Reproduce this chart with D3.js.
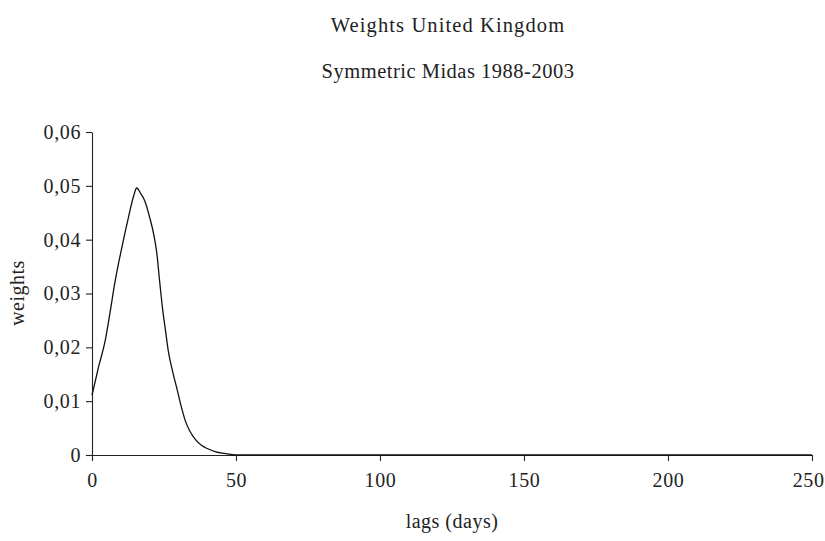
<!DOCTYPE html>
<html>
<head>
<meta charset="utf-8">
<script src="https://cdn.jsdelivr.net/npm/d3@7"></script>
<style>
  body { margin: 0; background: #fff; }
  svg text { font-family: "Liberation Serif", "Times New Roman", serif; fill: #222; }
</style>
</head>
<body>
<svg id="chart"></svg>
<script>
// values
const lags = [0, 2.3, 4.6, 6.3, 8, 10.3, 12.6, 14.5, 15.5, 17, 18.4, 20, 21.5, 22.5, 23.5, 24.5, 25.5, 26.5, 28, 29.5, 31, 32.5, 34, 36, 38, 40, 43, 46, 50, 60, 100, 150, 200, 250]
const weights = [0.0111, 0.0164, 0.0213, 0.0266, 0.0322, 0.0384, 0.0440, 0.0482, 0.0496, 0.0485, 0.0471, 0.0442, 0.0408, 0.0375, 0.0322, 0.0272, 0.0232, 0.0193, 0.0155, 0.0123, 0.0090, 0.0062, 0.0044, 0.0028, 0.0018, 0.0012, 0.0006, 0.0003, 0, 0, 0, 0, 0, 0]
const xTicks = [0, 50, 100, 150, 200, 250]
const yTicks = [0, 0.01, 0.02, 0.03, 0.04, 0.05, 0.06]

const width = 825, height = 541
const margin = {top: 132, right: 13, bottom: 86, left: 92}

const svg = d3.select('#chart')
  .attr('width', width)
  .attr('height', height)

const x = d3.scaleLinear()
  .domain([0, 250])
  .range([margin.left, width - margin.right])
const y = d3.scaleLinear()
  .domain([0, 0.06])
  .range([height - margin.bottom, margin.top])

const comma = d3.formatLocale({decimal: ',', thousands: '.', grouping: [3], currency: ['', '']})
const yFmt = d => d === 0 ? '0' : comma.format('.2f')(d)

svg.append('g')
  .attr('class', 'x-axis')
  .attr('transform', `translate(0, ${y(0)})`)
  .call(d3.axisBottom(x).tickValues(xTicks).tickSize(6).tickPadding(12).tickSizeOuter(0))
svg.append('g')
  .attr('class', 'y-axis')
  .attr('transform', `translate(${x(0)}, 0)`)
  .call(d3.axisLeft(y).tickValues(yTicks).tickFormat(yFmt).tickSize(6).tickPadding(5).tickSizeOuter(0))

svg.selectAll('.domain, .tick line').attr('stroke', '#222').attr('stroke-width', 1.1)
svg.selectAll('.tick text')
  .attr('font-size', 20)
  .attr('letter-spacing', 0.6)
  .attr('fill', '#222')
  .style('font-family', '"Liberation Serif", serif')

// last x label sits pulled in against the right edge, as in the original
svg.selectAll('.x-axis .tick text')
  .filter(d => d === 250)
  .attr('text-anchor', 'end')
  .attr('x', 12)

const line = d3.line()
  .x((d, i) => x(lags[i]))
  .y(d => y(d))
  .curve(d3.curveMonotoneX)

svg.append('path')
  .datum(weights)
  .attr('fill', 'none')
  .attr('stroke', '#111')
  .attr('stroke-width', 1.3)
  .attr('d', line)

svg.append('text')
  .attr('x', 448).attr('y', 32)
  .attr('text-anchor', 'middle')
  .attr('font-size', 20.5)
  .attr('letter-spacing', 1.1)
  .text('Weights United Kingdom')
svg.append('text')
  .attr('x', 448).attr('y', 78)
  .attr('text-anchor', 'middle')
  .attr('font-size', 20.5)
  .attr('letter-spacing', 0.5)
  .text('Symmetric Midas 1988-2003')

svg.append('text')
  .attr('transform', 'translate(24, 293) rotate(-90)')
  .attr('text-anchor', 'middle')
  .attr('font-size', 20)
  .attr('letter-spacing', 0.5)
  .text('weights')
svg.append('text')
  .attr('x', 452).attr('y', 528)
  .attr('text-anchor', 'middle')
  .attr('font-size', 20)
  .attr('letter-spacing', 0.5)
  .text('lags (days)')
</script>
</body>
</html>
